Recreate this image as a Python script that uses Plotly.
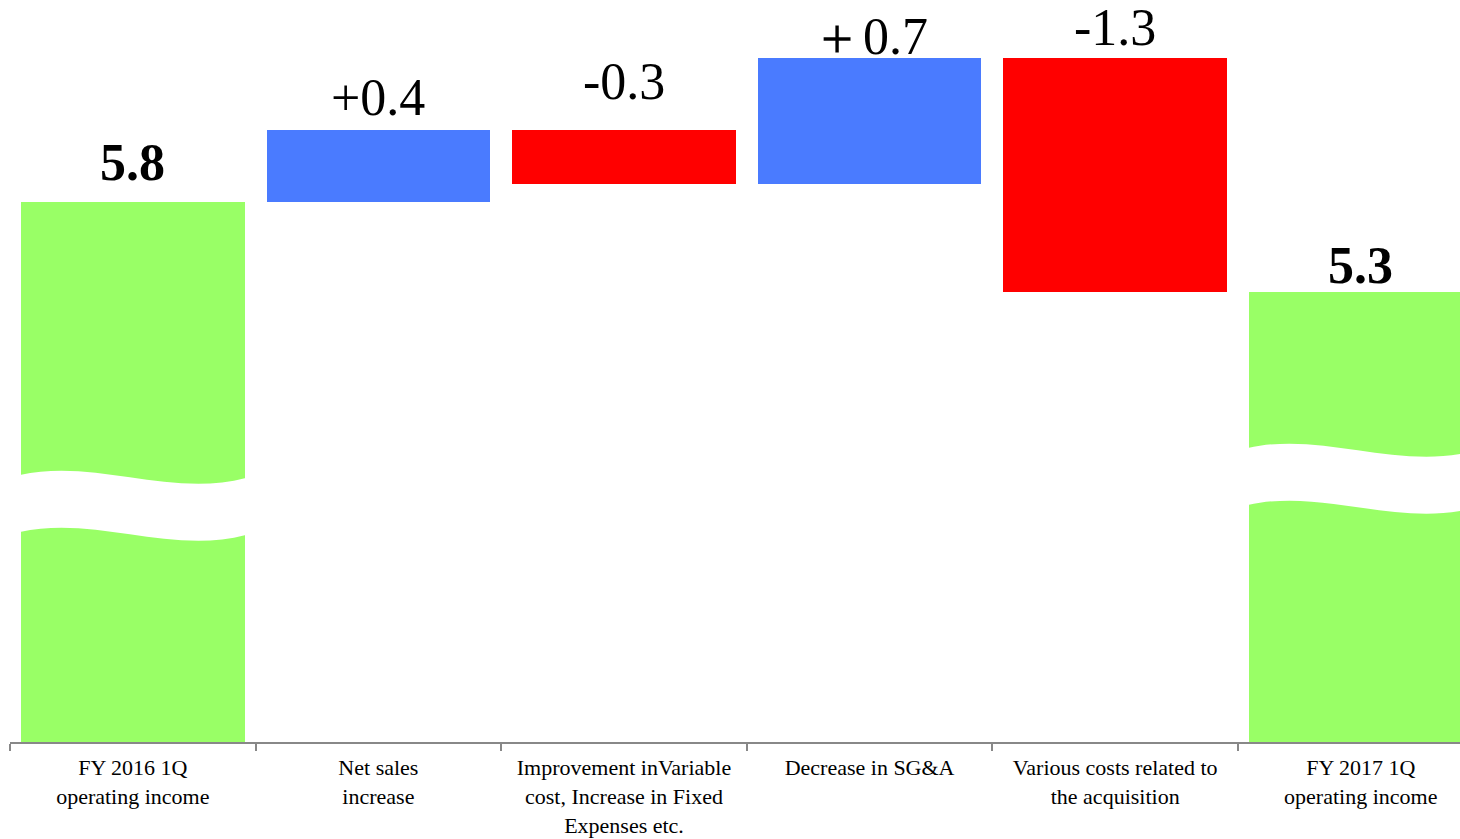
import plotly.graph_objects as go

categories = [
    "FY 2016 1Q<br>operating income",
    "Net sales<br>increase",
    "Improvement inVariable<br>cost, Increase in Fixed<br>Expenses etc.",
    "Decrease in SG&A",
    "Various costs related to<br>the acquisition",
    "FY 2017 1Q<br>operating income",
]
values = [5.8, 0.4, -0.3, 0.7, -1.3, 5.3]
measures = ["total", "delta", "delta", "delta", "delta", "total"]
labels = ["<b>5.8</b>", "+0.4", "-0.3", "＋0.7", "-1.3", "<b>5.3</b>"]

# styles (not data)
colors = {"total": "#99FF66", "up": "#4A7BFF", "down": "#FF0000"}
label_shift = [9, 2, 18, -9, 0, -4]
FONT = "Liberation Serif, Times New Roman, serif"

# compute floating bars
bases, heights, bar_colors, tops = [], [], [], []
running = 0.0
for v, m in zip(values, measures):
    if m == "total":
        bases.append(0.0)
        heights.append(v)
        bar_colors.append(colors["total"])
        running = v
        tops.append(v)
    else:
        new = running + v
        bases.append(min(running, new))
        heights.append(abs(v))
        bar_colors.append(colors["up"] if v > 0 else colors["down"])
        tops.append(max(running, new))
        running = new

fig = go.Figure()
fig.add_trace(go.Bar(
    x=list(range(len(categories))), y=heights, base=bases,
    marker=dict(color=bar_colors, line=dict(width=0)),
    width=0.91, hoverinfo="skip",
))

Y0, Y1 = 2.8, 6.922
X0, X1 = -0.5, 5.404

for i, (t, lab, m) in enumerate(zip(tops, labels, measures)):
    fig.add_annotation(
        x=i, y=t, text=lab, showarrow=False, yanchor="bottom",
        yshift=label_shift[i],
        font=dict(family=FONT, size=52, color="black"),
        xref="x", yref="y",
    )

# axis break (white wave bands) on the total bars
px = (Y1 - Y0) / 742.0  # data units per pixel


def wave_band(xc, ytop_left_px, w=0.92):
    xl, xr = xc - w / 2, xc + w / 2
    def y(p):
        return Y0 + (742 - p) * px
    th = 57
    a0, a1, a2, a3 = ytop_left_px, ytop_left_px - 17, ytop_left_px + 23, ytop_left_px + 3
    dx = (xr - xl) / 3
    path = (
        f"M {xl},{y(a0)} C {xl+dx},{y(a1)} {xl+2*dx},{y(a2)} {xr},{y(a3)} "
        f"L {xr},{y(a3+th)} C {xl+2*dx},{y(a2+th)} {xl+dx},{y(a1+th)} {xl},{y(a0+th)} Z"
    )
    return path


for i, top_px in [(0, 475), (5, 448)]:
    fig.add_shape(type="path", path=wave_band(i, top_px), xref="x", yref="y",
                  fillcolor="white", line=dict(width=0), layer="above")

fig.update_layout(
    width=1460, height=839,
    margin=dict(l=10, r=0, t=0, b=97, autoexpand=False),
    plot_bgcolor="white", paper_bgcolor="white",
    showlegend=False, bargap=0,
    font=dict(family=FONT, size=22, color="black"),
)
fig.update_xaxes(
    range=[X0, X1], automargin=False,
    tickmode="array", tickvals=list(range(len(categories))), ticktext=categories,
    showline=True, linecolor="#888888", linewidth=2,
    ticks="", showgrid=False, zeroline=False,
    ticklabelstandoff=5,
    tickfont=dict(family=FONT, size=22, color="black"),
    minor=dict(tickmode="array", tickvals=[k - 0.5 for k in range(len(categories))],
               ticks="outside", ticklen=7, tickwidth=1.5, tickcolor="#888888", showgrid=False),
)
fig.update_yaxes(range=[Y0, Y1], visible=False, showgrid=False, automargin=False)

fig.write_html("out.html")
